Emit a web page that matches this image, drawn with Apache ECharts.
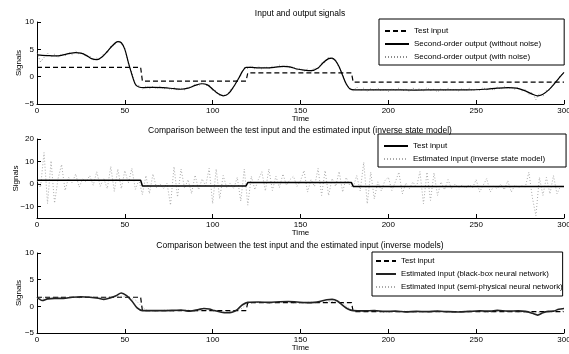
<!DOCTYPE html>
<html>
<head>
<meta charset="utf-8">
<script src="https://cdn.jsdelivr.net/npm/echarts@6/dist/echarts.min.js"></script>
<style>
  html, body { margin: 0; padding: 0; background: #fff; }
  #chart { width: 569px; height: 354px; }
</style>
</head>
<body>
<div id="chart"></div>
<script>
// Test input: piecewise constant levels (time, value)
const testTimes = [0, 59, 60, 119, 120, 179, 180, 300];
const testValues = [1.7, 1.7, -0.8, -0.8, 0.7, 0.7, -1.0, -1.0];

// Panel 1: second-order output without noise (time, value)
const outputCleanTimes = [0, 3, 6, 10, 14, 18, 22, 25, 28, 31, 34, 37, 40, 43, 46, 48, 50, 52, 54, 56, 58, 61, 66, 72, 78, 82, 86, 90, 94, 97, 100, 103, 106, 109, 112, 115, 117, 119, 122, 126, 130, 135, 140, 144, 148, 152, 156, 160, 163, 166, 168, 170, 172, 174, 176, 178, 181, 190, 200, 215, 230, 245, 255, 262, 268, 273, 278, 282, 285, 288, 291, 294, 297, 300];
const outputCleanValues = [4.0, 3.9, 3.85, 3.8, 3.9, 4.2, 4.4, 4.3, 3.9, 3.3, 3.1, 3.6, 4.6, 5.7, 6.4, 6.2, 5.0, 2.6, 0.4, -1.4, -1.9, -2.0, -1.95, -2.0, -2.2, -2.3, -2.1, -1.6, -1.3, -1.5, -2.3, -3.1, -3.5, -3.1, -1.8, -0.2, 1.0, 1.7, 1.7, 1.6, 1.6, 1.7, 1.9, 1.8, 1.4, 1.2, 1.1, 1.6, 2.6, 3.3, 3.4, 2.9, 1.8, 0.2, -1.3, -2.2, -2.4, -2.4, -2.4, -2.45, -2.4, -2.4, -2.3, -2.1, -2.0, -2.1, -2.6, -3.2, -3.5, -3.2, -2.5, -1.5, -0.3, 0.8];

// Panel 1: second-order output with noise, one sample every 2 time units
const SAMPLE_STEP = 2;
const outputNoisy = [
  4.4, 2.7, 3.5, 4.3, 3.6, 4.1, 3.5, 4.2, 3.8, 4.5,
  4.0, 4.7, 4.1, 4.4, 3.6, 3.8, 3.0, 3.4, 3.2, 4.2,
  4.3, 5.6, 5.7, 6.6, 6.0, 5.2, 2.3, 0.8, -1.6, -1.6,
  -2.3, -1.7, -2.2, -1.8, -2.2, -1.7, -2.3, -1.9, -2.4, -2.0,
  -2.5, -2.1, -2.4, -1.9, -2.0, -1.4, -1.7, -1.1, -1.6, -1.5,
  -2.5, -2.6, -3.5, -3.3, -3.5, -2.4, -2.0, -0.5, 0.2, 1.6,
  1.5, 2.0, 1.4, 1.9, 1.4, 1.8, 1.5, 1.9, 1.6, 2.1,
  1.7, 2.1, 1.6, 1.8, 1.2, 1.5, 1.0, 1.4, 0.9, 1.6,
  1.4, 2.5, 2.6, 3.6, 3.2, 3.1, 1.6, 0.5, -1.5, -2.0,
  -2.6, -1.9, -2.6, -2.1, -2.7, -2.2, -2.5, -2.1, -2.6, -2.3,
  -2.7, -2.2, -2.5, -2.1, -2.6, -2.3, -2.7, -2.1, -2.4, -2.2,
  -2.6, -2.0, -2.5, -2.3, -2.8, -2.2, -2.6, -2.1, -2.5, -2.3,
  -2.6, -2.2, -2.5, -2.1, -2.6, -2.3, -2.5, -2.0, -2.4, -2.1,
  -2.5, -1.9, -2.3, -1.8, -2.2, -1.9, -2.3, -2.0, -2.6, -2.4,
  -3.2, -2.9, -4.2, -3.1, -3.6, -2.5, -2.4, -1.2, -0.9, 0.3,
  0.6
];

// Panel 2: estimated input (inverse state model), one sample every 2 time units
const estimatedState = [
  1.5, -1.5, 14.0, -8.6, 10.3, -8.4, 2.5, 8.7, -2.8, 3.0,
  0.5, 4.5, -1.3, 2.3, 1.0, 3.8, -0.5, 5.5, -1.0, 2.5,
  -2.0, 7.8, -3.2, 6.7, -2.0, 6.0, 0.5, 7.0, -2.3, 1.8,
  -4.6, 3.8, -4.2, 4.5, -1.5, 0.2, -2.0, 0.5, -9.3, 7.7,
  -5.7, 6.7, -1.8, 2.0, -4.2, 4.0, -2.5, 2.3, -0.8, 7.0,
  -8.6, 6.7, -6.4, 3.8, -1.5, 0.5, -2.0, 3.0, -7.5, 6.7,
  -9.3, 3.5, -2.5, 2.0, 5.5, -3.0, 6.7, -2.8, 3.5, -1.5,
  4.5, -0.5, 2.0, 3.5, -1.0, 1.5, 6.0, -3.5, 2.0, -1.0,
  7.0, -5.0, 6.0, -5.0, 2.5, -1.0, 5.6, -3.5, 3.0, -0.5,
  -1.5, 3.8, -3.0, 9.7, -8.7, 5.3, -6.5, 1.0, -3.0, 1.5,
  3.1, -2.8, 1.0, 5.3, -4.3, 0.5, -2.0, 1.0, -1.5, 5.6,
  -8.7, 5.3, -7.2, 5.0, -5.0, 1.0, -2.5, 2.0, -2.0, 0.0,
  -1.5, -0.5, -1.8, -0.2, -1.5, 2.0, -3.5, -0.5, 2.5, -3.5,
  -1.0, -2.0, 0.0, -2.5, 1.5, -3.5, -0.5, -1.5, -0.8, -1.2,
  5.3, -6.0, -14.0, 3.0, -5.0, 3.0, -4.3, 3.8, -4.3, -1.0,
  -1.0
];

// Panel 3: black-box neural network estimate (time, value)
const blackBoxTimes = [0, 3, 6, 10, 15, 20, 25, 30, 35, 38, 42, 45, 48, 51, 54, 57, 60, 66, 72, 78, 82, 87, 92, 95, 98, 101, 105, 108, 111, 114, 117, 120, 126, 132, 138, 143, 148, 153, 158, 162, 165, 168, 171, 174, 177, 180, 186, 192, 198, 204, 210, 216, 222, 228, 234, 240, 246, 252, 258, 262, 268, 274, 278, 282, 285, 288, 291, 294, 297, 300];
const blackBoxValues = [1.7, 1.1, 1.4, 1.5, 1.5, 1.7, 1.8, 1.7, 1.5, 1.3, 1.6, 2.0, 2.5, 2.0, 1.0, -0.3, -0.8, -0.8, -0.8, -0.75, -0.7, -0.9, -0.6, -0.4, -0.5, -0.8, -1.1, -1.2, -1.1, -0.6, 0.3, 0.75, 0.8, 0.75, 0.85, 0.9, 0.8, 0.7, 0.75, 1.0, 1.25, 1.3, 1.0, 0.2, -0.5, -0.8, -0.85, -0.8, -0.95, -0.9, -1.05, -0.95, -1.0, -0.9, -1.0, -1.05, -0.95, -0.85, -0.9, -0.75, -0.9, -0.85, -0.95, -1.3, -1.65, -1.2, -0.95, -0.9, -0.55, -0.4];

// Panel 3: semi-physical neural network estimate (time, value)
const semiPhysTimes = [0, 4, 8, 12, 16, 20, 24, 28, 32, 36, 40, 44, 48, 52, 56, 59, 62, 66, 70, 74, 78, 82, 86, 90, 94, 98, 102, 106, 110, 114, 117, 120, 124, 128, 132, 136, 140, 144, 148, 152, 156, 160, 164, 168, 172, 175, 178, 181, 186, 192, 198, 204, 210, 216, 222, 228, 234, 240, 246, 252, 258, 264, 270, 276, 280, 284, 288, 292, 296, 300];
const semiPhysValues = [1.5, 1.6, 1.5, 1.7, 1.6, 1.7, 1.6, 1.8, 1.7, 1.6, 1.7, 1.8, 1.9, 1.7, 1.2, 0.2, -0.7, -0.9, -0.8, -0.7, -0.9, -0.8, -0.7, -0.9, -0.8, -0.7, -0.9, -1.0, -0.9, -0.8, -0.3, 0.6, 0.7, 0.8, 0.6, 0.7, 0.8, 0.7, 0.6, 0.7, 0.8, 0.7, 0.8, 0.9, 0.8, 0.4, -0.5, -0.9, -1.0, -0.9, -1.1, -1.0, -0.9, -1.1, -1.0, -0.9, -1.1, -1.0, -0.9, -1.0, -1.1, -0.9, -1.0, -1.1, -1.0, -1.3, -1.1, -0.9, -1.0, -0.9];

const FONT = "'Liberation Sans', Arial, Helvetica, sans-serif";
const DASH = [5, 3];
const DOT = [1, 2];

function pairs(times, values) {
  return times.map((t, i) => [t, values[i]]);
}
function sampled(values) {
  return values.map((v, i) => [i * SAMPLE_STEP, v]);
}

// names carry a "|panel" suffix so each legend picks its own series
const label = (name) => name.split('|')[0];

function xAxisFor(gridIndex) {
  return {
    type: 'value', gridIndex, min: 0, max: 300, interval: 50,
    name: 'Time', nameLocation: 'middle', nameGap: 11, nameMoveOverlap: false,
    nameTextStyle: { color: '#000', fontSize: 8, fontFamily: FONT },
    axisLine: { onZero: false, lineStyle: { color: '#000', width: 1 } },
    axisTick: { inside: true, length: 4, lineStyle: { color: '#000' } },
    axisLabel: { color: '#000', fontSize: 8, fontFamily: FONT, margin: 3 },
    splitLine: { show: false }
  };
}

function yAxisFor(gridIndex, min, max, ticks, gap) {
  return {
    type: 'value', gridIndex, min, max,
    name: 'Signals', nameLocation: 'middle', nameGap: gap, nameMoveOverlap: false,
    nameTextStyle: { color: '#000', fontSize: 8, fontFamily: FONT },
    axisLine: { onZero: false, lineStyle: { color: '#000', width: 1 } },
    axisTick: { inside: true, length: 4, customValues: ticks, lineStyle: { color: '#000' } },
    axisLabel: {
      color: '#000', fontSize: 8, fontFamily: FONT, margin: 3, customValues: ticks,
      formatter: (v) => (v < 0 ? '\u2212' + Math.abs(v) : String(v))
    },
    splitLine: { show: false }
  };
}

function lineSeries(name, axisIndex, data, style) {
  return Object.assign({
    type: 'line', name, xAxisIndex: axisIndex, yAxisIndex: axisIndex,
    data, symbol: 'none', showSymbol: false, silent: true
  }, style);
}

const legendBase = {
  orient: 'vertical', itemWidth: 24, itemHeight: 10, itemGap: 5,
  backgroundColor: '#fff', borderColor: '#000', borderWidth: 1,
  itemStyle: { opacity: 0, borderWidth: 0 },
  textStyle: { color: '#000', fontSize: 8, fontFamily: FONT },
  formatter: label, selectedMode: false
};

const gridBase = { left: 37, width: 527, outerBoundsMode: 'none', containLabel: false };

const chart = echarts.init(document.getElementById('chart'));
chart.setOption({
  animation: false,
  backgroundColor: '#fff',
  title: [
    { text: 'Input and output signals', left: 300, top: 9 },
    { text: 'Comparison between the test input and the estimated input (inverse state model)', left: 300, top: 126 },
    { text: 'Comparison between the test input and the estimated input (inverse models)', left: 300, top: 241 }
  ].map((t) => Object.assign(t, {
    textAlign: 'center', padding: 0,
    textStyle: { color: '#000', fontSize: 8.5, fontWeight: 'normal', fontFamily: FONT }
  })),
  grid: [
    Object.assign({ top: 22, height: 82 }, gridBase),
    Object.assign({ top: 139, height: 79 }, gridBase),
    Object.assign({ top: 253, height: 80 }, gridBase)
  ],
  xAxis: [xAxisFor(0), xAxisFor(1), xAxisFor(2)],
  yAxis: [
    yAxisFor(0, -5, 10, [-5, 0, 5, 10], 14),
    yAxisFor(1, -15, 20, [-10, 0, 10, 20], 17),
    yAxisFor(2, -5, 10, [-5, 0, 5, 10], 14)
  ],
  legend: [
    Object.assign({}, legendBase, {
      left: 379, top: 19, padding: [8, 23, 4, 5],
      data: ['Test input|1', 'Second-order output (without noise)|1', 'Second-order output (with noise)|1']
    }),
    Object.assign({}, legendBase, {
      left: 378, top: 134, padding: [8, 21, 4, 5],
      data: ['Test input|2', 'Estimated input (inverse state model)|2']
    }),
    Object.assign({}, legendBase, {
      left: 372, top: 252, padding: [5, 0, 5, 3], itemWidth: 20,
      textStyle: { color: '#000', fontSize: 7.8, fontFamily: FONT },
      data: ['Test input|3', 'Estimated input (black-box neural network)|3', 'Estimated input (semi-physical neural network)|3']
    })
  ],
  series: [
    lineSeries('Second-order output (with noise)|1', 0, sampled(outputNoisy),
      { lineStyle: { color: '#8a8a8a', width: 1, type: DOT }, z: 1 }),
    lineSeries('Test input|1', 0, pairs(testTimes, testValues),
      { lineStyle: { color: '#000', width: 1.2, type: DASH }, z: 2 }),
    lineSeries('Second-order output (without noise)|1', 0, pairs(outputCleanTimes, outputCleanValues),
      { smooth: 0.3, lineStyle: { color: '#000', width: 1.2 }, z: 3 }),

    lineSeries('Estimated input (inverse state model)|2', 1, sampled(estimatedState),
      { lineStyle: { color: '#aaaaaa', width: 1, type: DOT }, z: 1 }),
    lineSeries('Test input|2', 1, pairs(testTimes, testValues),
      { lineStyle: { color: '#000', width: 1.5 }, z: 2 }),

    lineSeries('Estimated input (semi-physical neural network)|3', 2, pairs(semiPhysTimes, semiPhysValues),
      { lineStyle: { color: '#aaaaaa', width: 1, type: DOT }, z: 1 }),
    lineSeries('Test input|3', 2, pairs(testTimes, testValues),
      { lineStyle: { color: '#000', width: 1.2, type: DASH }, z: 2 }),
    lineSeries('Estimated input (black-box neural network)|3', 2, pairs(blackBoxTimes, blackBoxValues),
      { smooth: 0.3, lineStyle: { color: '#222', width: 1.6 }, z: 3 })
  ]
});
</script>
</body>
</html>
